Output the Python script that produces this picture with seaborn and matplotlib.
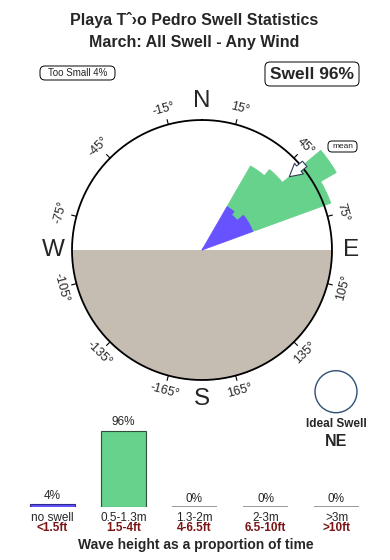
import matplotlib
matplotlib.use("Agg")
import numpy as np
import pandas as pd
import seaborn as sns
import matplotlib.pyplot as plt
from matplotlib.patches import FancyBboxPatch, Circle
from matplotlib.transforms import Affine2D

# ---------------- data ----------------
title_lines = ["Playa T\u02c6\u203ao Pedro Swell Statistics", "March: All Swell - Any Wind"]
too_small_label = "Too Small 4%"
swell_label = "Swell 96%"

rose_dirs = [35, 45, 55, 65]          # direction bin centres (deg, compass)
rose_bin_width = 10
rose_small = [50, 46, 54, 54]         # too-small part (inner, purple)
rose_swell = [47, 59, 101, 83]        # swell part stacked on top (green)
mean_dir = 50

tick_angles = [-165, -135, -105, -75, -45, -15, 15, 45, 75, 105, 135, 165]
cardinals = {"N": 0, "E": 90, "S": 180, "W": 270}

categories = ["no swell", "0.5-1.3m", "1.3-2m", "2-3m", ">3m"]
feet_labels = ["<1.5ft", "1.5-4ft", "4-6.5ft", "6.5-10ft", ">10ft"]
height_pct = [4, 96, 0, 0, 0]

ideal_label = "Ideal Swell"
ideal_dir = "NE"

# ---------------- style ----------------
GREEN = "#66d28c"
BLUE = "#6752ff"
TAN = "#c5bcb2"
DARKRED = "#7a1414"

sns.set_style("white")
plt.rcParams["font.family"] = ["Liberation Sans", "DejaVu Sans"]

W, H = 390, 560
fig = plt.figure(figsize=(W / 100, H / 100), dpi=100)
px = Affine2D().scale(1 / W, 1 / H) + fig.transFigure  # pixel coords, y up


def ptext(x, y, s, **kw):
    fig.text(x, H - y, s, transform=px, ha="center", va="center", **kw)


def pbox(x0, y0, x1, y1, rad):
    fig.patches.append(FancyBboxPatch((x0, H - y1), x1 - x0, y1 - y0,
                                      boxstyle=f"round,pad=0,rounding_size={rad}",
                                      transform=px, fc="white", ec="black", lw=0.7))


# titles
ptext(194, 20, title_lines[0], fontsize=11.5, fontweight="bold")
ptext(194, 42, title_lines[1], fontsize=11.5, fontweight="bold")

pbox(40, 66, 115, 80, 5)
ptext(77.5, 73, too_small_label, fontsize=7)
pbox(265, 62, 359, 86, 5)
ptext(312, 74.5, swell_label, fontsize=12.5, fontweight="bold")

# ---------------- rose (polar) ----------------
R_AX = 160
R_C = 130
cx, cy = 202, 250
ax = fig.add_axes([(cx - R_AX) / W, 1 - (cy + R_AX) / H, 2 * R_AX / W, 2 * R_AX / H],
                  projection="polar")
ax.set_theta_zero_location("N")
ax.set_theta_direction(-1)
ax.set_ylim(0, R_AX)
ax.set_axis_off()

th = np.radians(np.linspace(90, 270, 300))
ax.fill_between(th, 0, R_C, color=TAN, lw=0, zorder=1)

theta = np.radians(rose_dirs)
ax.bar(theta, rose_small, width=np.radians(rose_bin_width), bottom=0,
       color=BLUE, ec=BLUE, lw=0.6, zorder=3, align="center")
ax.bar(theta, rose_swell, width=np.radians(rose_bin_width), bottom=rose_small,
       color=GREEN, ec=GREEN, lw=0.6, zorder=2, align="center")

full = np.radians(np.linspace(0, 360, 721))
ax.plot(full, np.full_like(full, R_C), color="black", lw=1.3, zorder=4)

for t in tick_angles:
    r = np.radians(t)
    ax.plot([r, r], [R_C, R_C + 5], color="black", lw=0.8, zorder=4)
    rot = -t if abs(t) <= 90 else 180 - t
    rot = (rot + 180) % 360 - 180
    ax.text(r, 146, f"{t}\u00b0", rotation=rot, rotation_mode="anchor",
            ha="center", va="center", fontsize=9, clip_on=False, zorder=5)

for lab, a in cardinals.items():
    ax.text(np.radians(a), 149, lab, ha="center", va="center", fontsize=17.5,
            clip_on=False, zorder=5)

ax.annotate("", xy=(np.radians(mean_dir), 114), xytext=(np.radians(mean_dir), 134),
            arrowprops=dict(arrowstyle="simple,head_length=0.9,head_width=1.0,tail_width=0.5",
                            fc="white", ec="#2d3f55", lw=0.8, shrinkA=0, shrinkB=0,
                            mutation_scale=10), zorder=6)

pbox(328, 141, 357, 152, 4)
ptext(342.5, 146.5, "mean", fontsize=6)

# ideal swell
fig.patches.append(Circle((336, H - 391.7), 21, transform=px, fc="white",
                          ec="#2d4f73", lw=1.0))
ptext(336, 424, ideal_label, fontsize=8.5, fontweight="bold")
ptext(336, 441, ideal_dir, fontsize=11.5, fontweight="bold")

# ---------------- bottom bars ----------------
left_px, base_px, hpx = 17, 507.3, 80
ax2 = fig.add_axes([left_px / W, (H - base_px) / H, 355 / W, hpx / H])
df = pd.DataFrame({"cat": categories, "pct": height_pct})
sns.barplot(data=df, x="cat", y="pct", hue="cat", order=categories,
            palette=[BLUE, GREEN, "#888888", "#888888", "#888888"],
            legend=False, width=0.63, ax=ax2, saturation=1)
ax2.set_ylim(0, 100)
ax2.set_xlim(-0.5, len(categories) - 0.5)
ax2.set_axis_off()
edge_cols = ["#2a2a8a", "#2f4f3a", "#888888", "#888888", "#888888"]
for p, ec in zip(ax2.patches, edge_cols):
    p.set_edgecolor(ec)
    p.set_linewidth(1.2 if p.get_height() == 0 else 0.8)

dpp = 100 / hpx  # data units per pixel
for i, (v, c1, c2) in enumerate(zip(height_pct, categories, feet_labels)):
    ax2.text(i, v + 10.6, f"{v}%", ha="center", va="center", fontsize=8.5, clip_on=False)
    ax2.text(i, -10.4 * dpp, c1, ha="center", va="center", fontsize=8.5, clip_on=False)
    ax2.text(i, -21 * dpp, c2, ha="center", va="center", fontsize=8.5,
             fontweight="bold", color=DARKRED, clip_on=False)

ptext(196, 545, "Wave height as a proportion of time", fontsize=10, fontweight="bold")

fig.savefig("out.png", dpi=100)
